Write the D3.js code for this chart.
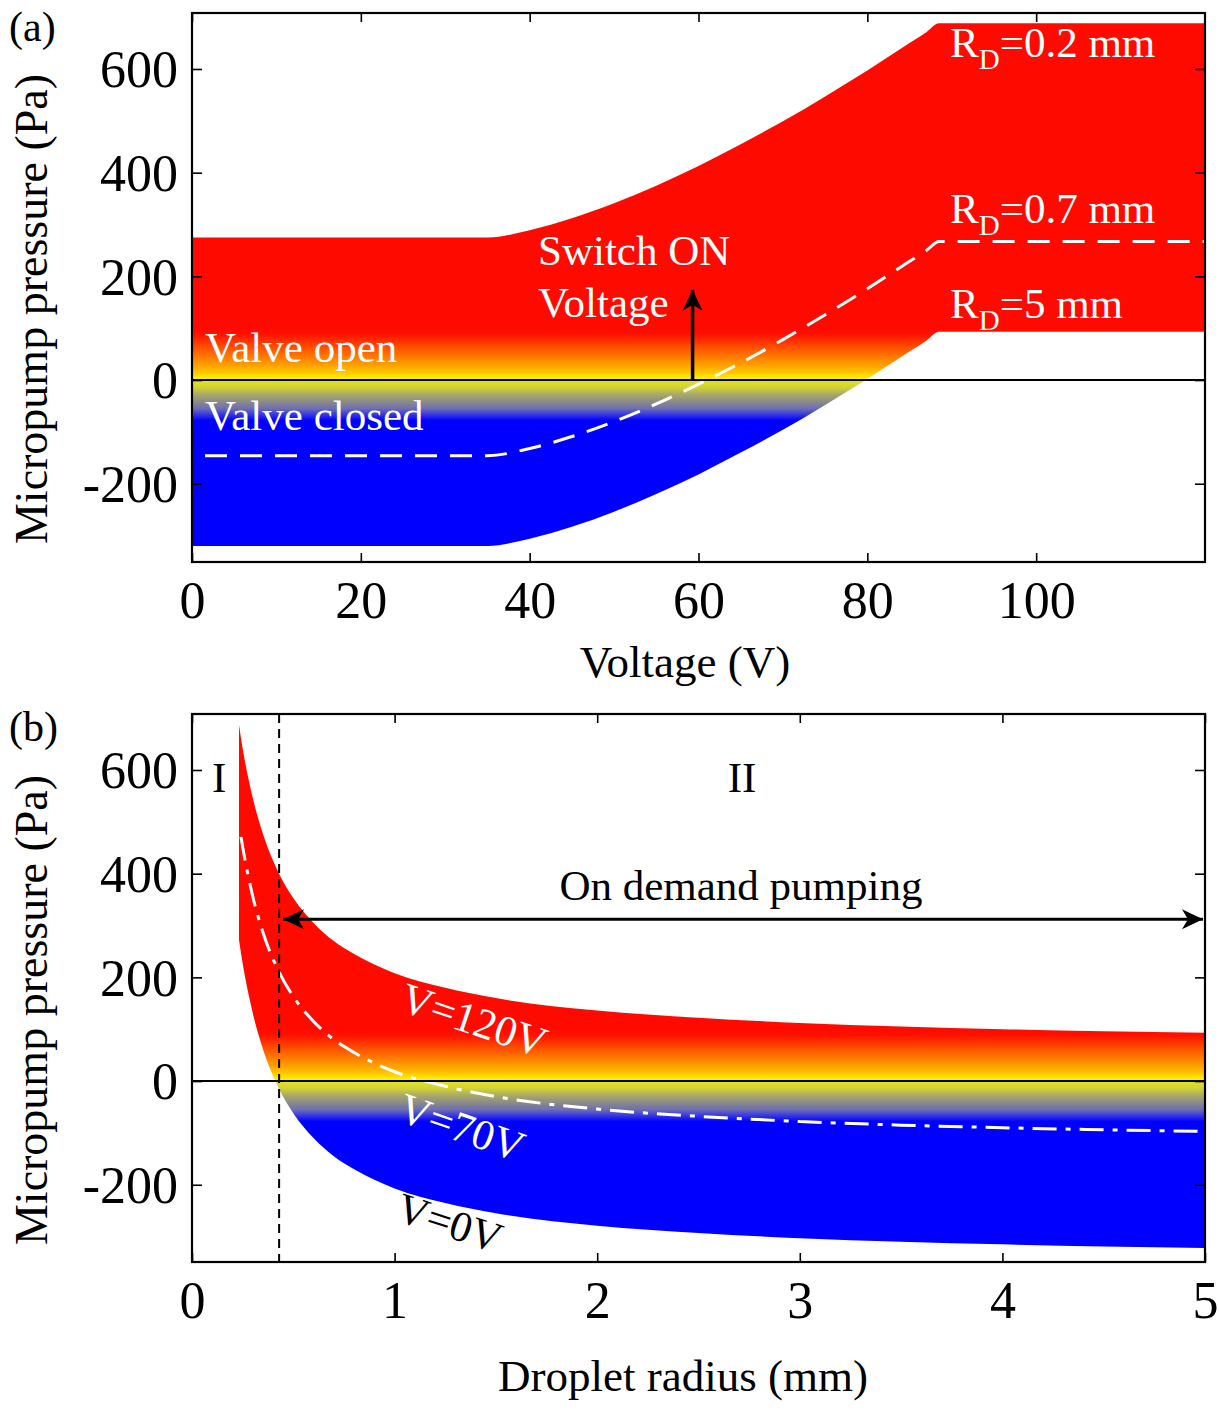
<!DOCTYPE html>
<html><head><meta charset="utf-8">
<script src="https://cdn.jsdelivr.net/npm/d3@7"></script>
<style>
body{margin:0;background:#fff}
svg{display:block;background:#fff}
</style>
</head><body>
<svg id="c" width="1219" height="1410"></svg>
<script>
// ---------- Panel (a): pressure vs voltage ----------
const voltage = [0, 35, 40, 45, 50, 55, 60, 65, 70, 75, 80, 85, 87, 88.5, 120];
const pRD02 = [275, 275, 289, 312, 341, 375, 413, 455, 499, 547, 597, 650, 671, 688, 688];
const pRD07 = [-146, -146, -132, -109, -80, -46, -8, 33, 78, 126, 176, 229, 250, 267, 267];
const pRD5  = [-320, -320, -306, -283, -254, -220, -182, -140, -96, -48, 2, 55, 76, 93, 93];
const xTicksA = [0, 20, 40, 60, 80, 100];
const yTicks = [-200, 0, 200, 400, 600];
const switchOnVoltage = 59.3;

// ---------- Panel (b): pressure vs droplet radius ----------
const radius = [0.232, 0.25, 0.3, 0.35, 0.43, 0.5, 0.6, 0.7, 0.8, 1.0, 1.25, 1.5, 2.0, 2.5, 3.0, 3.5, 4.0, 4.5, 5.0];
const pV120 = [687, 642, 546, 477, 400, 353, 305, 270, 245, 208, 180, 160, 136, 122, 112, 105, 100, 96, 93];
const pV0   = [272, 227, 131, 62, -15, -62, -110, -145, -170, -207, -235, -255, -279, -293, -303, -310, -315, -319, -322];
const radiusV70 = [0.242, 0.25, 0.3, 0.35, 0.43, 0.5, 0.6, 0.7, 0.8, 1.0, 1.25, 1.5, 2.0, 2.5, 3.0, 3.5, 4.0, 4.5, 5.0];
const pV70  = [471, 452, 356, 287, 210, 163, 115, 80, 55, 18, -10, -30, -54, -68, -78, -85, -90, -94, -97];
const xTicksB = [0, 1, 2, 3, 4, 5];
const criticalRadius = 0.43;

// ---------- colour map (pressure -> colour) ----------
const cmapP = [100, 88, 65, 45, 25, 10, 2, 0, -3, -15, -28, -42, -55, -66, -78];
const cmapC = ["#ff0a00", "#ff1200", "#ff4a00", "#ff7a00", "#ffaa00", "#ffd800", "#fff500", "#f6f600",
               "#e0e024", "#d0d038", "#a8a868", "#8a8a8a", "#6e6eb4", "#3a3ae0", "#0000ff"];

const FONT = '"Liberation Serif","Times New Roman",Times,serif';
const svg = d3.select("#c");
const defs = svg.append("defs");

defs.append("marker").attr("id", "ah")
  .attr("viewBox", "-22 -11 24 22").attr("refX", 0).attr("refY", 0)
  .attr("markerWidth", 24).attr("markerHeight", 22).attr("markerUnits", "userSpaceOnUse")
  .attr("orient", "auto-start-reverse")
  .append("path").attr("d", "M0,0 L-21,-10 L-15,0 L-21,10 Z").attr("fill", "#000");

function makeGradient(id, y) {
  const yTop = y(cmapP[0]), yBot = y(cmapP[cmapP.length - 1]);
  const g = defs.append("linearGradient").attr("id", id).attr("gradientUnits", "userSpaceOnUse")
    .attr("x1", 0).attr("x2", 0).attr("y1", yTop).attr("y2", yBot);
  cmapP.forEach((p, i) => g.append("stop")
    .attr("offset", (y(p) - yTop) / (yBot - yTop)).attr("stop-color", cmapC[i]));
}

function drawAxes(g, x, y, xt) {
  const [x0, x1] = x.range(), [yb, yt] = y.range();
  const fmt = d => String(d);
  const style = (sel, dy) => {
    sel.select(".domain").remove();
    sel.selectAll("line").attr("stroke", "#000").attr("stroke-width", 1.6);
    sel.selectAll("text").attr("font-family", FONT).attr("font-size", 52).attr("fill", "#000").attr("dy", dy);
    sel.attr("font-family", null).attr("font-size", null);
  };
  g.append("g").attr("transform", `translate(0,${yb})`)
    .call(d3.axisBottom(x).tickValues(xt).tickSize(-9).tickPadding(19).tickFormat(fmt)).call(style, "0.71em");
  g.append("g").attr("transform", `translate(0,${yt})`)
    .call(d3.axisTop(x).tickValues(xt).tickSize(-9).tickFormat("")).call(style, null);
  g.append("g").attr("transform", `translate(${x0},0)`)
    .call(d3.axisLeft(y).tickValues(yTicks).tickSize(-10).tickPadding(14).tickFormat(fmt)).call(style, "0.34em");
  g.append("g").attr("transform", `translate(${x1},0)`)
    .call(d3.axisRight(y).tickValues(yTicks).tickSize(-10).tickFormat("")).call(style, null);
  g.append("rect").attr("x", x0).attr("y", yt).attr("width", x1 - x0).attr("height", yb - yt)
    .attr("fill", "none").attr("stroke", "#000").attr("stroke-width", 2.2);
}

function txt(g, x, y, s, opts = {}) {
  return g.append("text").attr("x", x).attr("y", y).text(s)
    .attr("font-family", FONT).attr("font-size", opts.size || 43)
    .attr("fill", opts.fill || "#000").attr("text-anchor", opts.anchor || "start");
}

// ================= Panel (a) =================
const xA = d3.scaleLinear().domain([0, 120]).range([192, 1205]);
const yA = d3.scaleLinear().domain([-351, 708]).range([562, 13]);
makeGradient("gradA", yA);
const gA = svg.append("g");

const dataA = voltage.map((v, i) => ({ v, top: pRD02[i], mid: pRD07[i], bot: pRD5[i] }));
gA.append("path").datum(dataA)
  .attr("d", d3.area().x(d => xA(d.v)).y0(d => yA(d.bot)).y1(d => yA(d.top)).curve(d3.curveMonotoneX))
  .attr("fill", "url(#gradA)");
gA.append("path").datum(dataA)
  .attr("d", d3.line().x(d => xA(d.v)).y(d => yA(d.mid)).curve(d3.curveMonotoneX))
  .attr("fill", "none").attr("stroke", "#fff").attr("stroke-width", 3)
  .attr("stroke-dasharray", "22,13").attr("stroke-dashoffset", 22);
// zero line
gA.append("line").attr("x1", xA(0)).attr("x2", xA(120)).attr("y1", yA(0)).attr("y2", yA(0))
  .attr("stroke", "#000").attr("stroke-width", 2);
// switch ON arrow
gA.append("line").attr("x1", xA(switchOnVoltage)).attr("x2", xA(switchOnVoltage))
  .attr("y1", yA(0)).attr("y2", yA(174))
  .attr("stroke", "#000").attr("stroke-width", 3.5).attr("marker-end", "url(#ah)");

txt(gA, 205, 362, "Valve open", { fill: "#fff" });
txt(gA, 205, 430, "Valve closed", { fill: "#fff" });
txt(gA, 538, 265, "Switch ON", { fill: "#fff" });
txt(gA, 538, 317, "Voltage", { fill: "#fff" });

function rdLabel(g, x, y, val) {
  const t = txt(g, x, y, "", { fill: "#fff" });
  t.append("tspan").text("R");
  t.append("tspan").attr("font-size", 29).attr("dy", 12).text("D");
  t.append("tspan").attr("dy", -12).text("=" + val + " mm");
}
rdLabel(gA, 950, 57, "0.2");
rdLabel(gA, 950, 223, "0.7");
rdLabel(gA, 950, 318, "5");

drawAxes(gA, xA, yA, xTicksA);
txt(gA, 685, 677, "Voltage (V)", { size: 45, anchor: "middle" });
gA.append("text").attr("transform", "translate(47,309) rotate(-90)").attr("text-anchor", "middle")
  .attr("font-family", FONT).attr("font-size", 46).text("Micropump pressure (Pa)");
txt(gA, 9, 41, "(a)", { size: 42 });

// ================= Panel (b) =================
const xB = d3.scaleLinear().domain([0, 5]).range([192, 1205]);
const yB = d3.scaleLinear().domain([-349, 708]).range([1262, 714]);
makeGradient("gradB", yB);
const gB = svg.append("g");

const dataB = radius.map((r, i) => ({ r, top: pV120[i], bot: pV0[i] }));
gB.append("path").datum(dataB)
  .attr("d", d3.area().x(d => xB(d.r)).y0(d => yB(d.bot)).y1(d => yB(d.top)).curve(d3.curveMonotoneX))
  .attr("fill", "url(#gradB)");
const dataV70 = radiusV70.map((r, i) => ({ r, p: pV70[i] }));
gB.append("path").datum(dataV70)
  .attr("d", d3.line().x(d => xB(d.r)).y(d => yB(d.p)).curve(d3.curveMonotoneX))
  .attr("fill", "none").attr("stroke", "#fff").attr("stroke-width", 3).attr("stroke-dasharray", "24,9,5,9");
gB.append("line").attr("x1", xB(0)).attr("x2", xB(5)).attr("y1", yB(0)).attr("y2", yB(0))
  .attr("stroke", "#000").attr("stroke-width", 2);
gB.append("line").attr("x1", xB(criticalRadius)).attr("x2", xB(criticalRadius))
  .attr("y1", yB.range()[1]).attr("y2", yB.range()[0])
  .attr("stroke", "#000").attr("stroke-width", 2).attr("stroke-dasharray", "9,6");
gB.append("line").attr("x1", xB(criticalRadius) + 4).attr("x2", xB(4.99))
  .attr("y1", yB(312)).attr("y2", yB(312))
  .attr("stroke", "#000").attr("stroke-width", 3)
  .attr("marker-start", "url(#ah)").attr("marker-end", "url(#ah)");

txt(gB, 212, 792, "I");
txt(gB, 742, 792, "II", { anchor: "middle" });
txt(gB, 741, 900, "On demand pumping", { anchor: "middle" });
gB.append("text").attr("transform", "translate(398,1010) rotate(18.5)")
  .attr("font-family", FONT).attr("font-size", 43).attr("fill", "#fff").text("V=120V");
gB.append("text").attr("transform", "translate(396,1120) rotate(19)")
  .attr("font-family", FONT).attr("font-size", 43).attr("fill", "#fff").text("V=70V");
gB.append("text").attr("transform", "translate(394,1220) rotate(18)")
  .attr("font-family", FONT).attr("font-size", 43).attr("fill", "#000").text("V=0V");

drawAxes(gB, xB, yB, xTicksB);
txt(gB, 683, 1391, "Droplet radius (mm)", { size: 45, anchor: "middle" });
gB.append("text").attr("transform", "translate(47,1010) rotate(-90)").attr("text-anchor", "middle")
  .attr("font-family", FONT).attr("font-size", 46).text("Micropump pressure (Pa)");
txt(gB, 9, 741, "(b)", { size: 42 });
</script>
</body></html>
